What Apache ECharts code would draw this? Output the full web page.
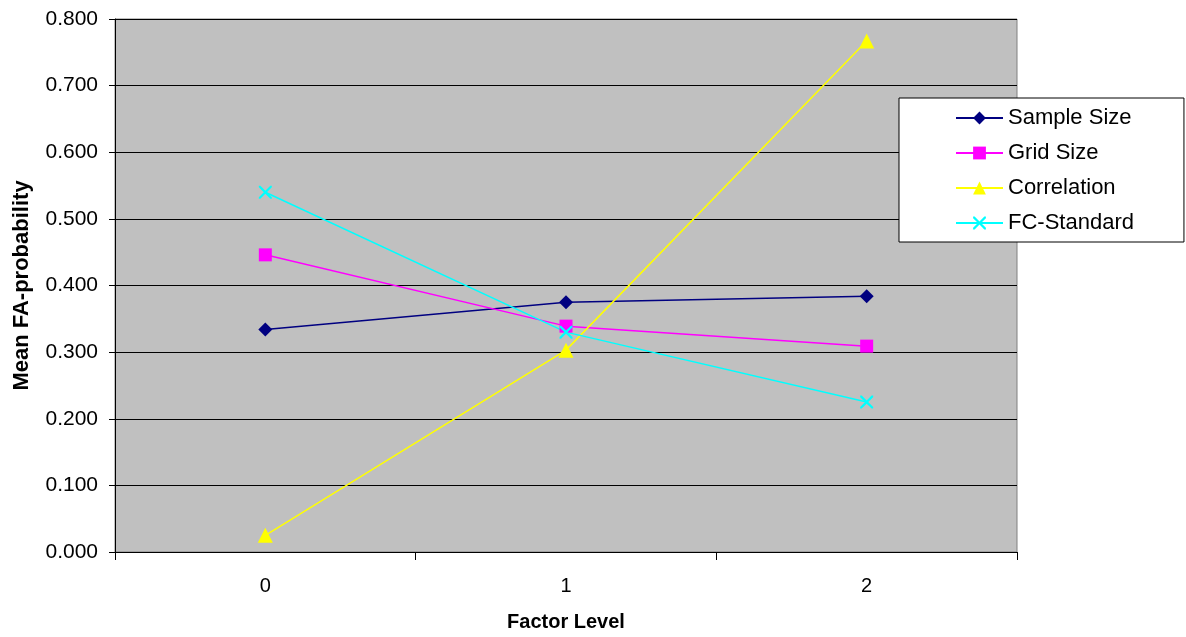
<!DOCTYPE html>
<html>
<head>
<meta charset="utf-8">
<script src="https://cdn.jsdelivr.net/npm/echarts@6/dist/echarts.min.js"></script>
<style>
  html, body { margin: 0; padding: 0; background: #ffffff; }
  #chart { width: 1186px; height: 637px; }
</style>
</head>
<body>
<div id="chart"></div>
<script>
// Factor levels on the x axis
const factorLevels = ['0', '1', '2'];

// Mean FA-probability per factor level
const sampleSize = [0.334, 0.375, 0.384];
const gridSize = [0.446, 0.339, 0.309];
const correlation = [0.025, 0.303, 0.767];
const fcStandard = [0.540, 0.330, 0.225];

// Thin "X" marker outline
const crossPath = 'path://M0,0 L1.2,0 L5,3.8 L8.8,0 L10,0 L10,1.2 L6.2,5 L10,8.8 L10,10 L8.8,10 L5,6.2 L1.2,10 L0,10 L0,8.8 L3.8,5 L0,1.2 Z';

const font = 'Arial, "Liberation Sans", sans-serif';

function lineSeries(name, data, color, symbol, size) {
  return {
    name: name,
    type: 'line',
    data: data,
    symbol: symbol,
    symbolSize: size,
    showAllSymbol: true,
    lineStyle: { color: color, width: 1.5 },
    itemStyle: { color: color },
    emphasis: { disabled: true },
    z: 3
  };
}

const chart = echarts.init(document.getElementById('chart'), null, { renderer: 'canvas' });

chart.setOption({
  animation: false,
  backgroundColor: '#ffffff',
  grid: {
    left: 115, right: 169, top: 19, bottom: 77,
    show: true,
    backgroundColor: '#c0c0c0',
    borderColor: '#808080',
    borderWidth: 1
  },
  xAxis: {
    type: 'category',
    data: factorLevels,
    boundaryGap: true,
    name: 'Factor Level',
    nameLocation: 'middle',
    nameGap: 60,
    nameTextStyle: { fontFamily: font, fontSize: 20, fontWeight: 'bold', color: '#000' },
    axisLine: { lineStyle: { color: '#000', width: 1 } },
    axisTick: { show: true, length: 8, lineStyle: { color: '#000' } },
    axisLabel: { fontFamily: font, fontSize: 20, color: '#000', margin: 24 },
    splitLine: { show: false }
  },
  yAxis: {
    type: 'value',
    min: 0,
    max: 0.8,
    interval: 0.1,
    name: 'Mean FA-probability',
    nameLocation: 'middle',
    nameGap: 82,
    nameTextStyle: { fontFamily: font, fontSize: 22, fontWeight: 'bold', color: '#000' },
    axisLine: { show: true, lineStyle: { color: '#000', width: 1 } },
    axisTick: { show: true, length: 6, lineStyle: { color: '#000' } },
    axisLabel: {
      fontFamily: font, fontSize: 21, color: '#000', margin: 17,
      formatter: v => v.toFixed(3)
    },
    splitLine: { show: true, lineStyle: { color: '#000', width: 1 } }
  },
  legend: {
    orient: 'vertical',
    left: 899,
    top: 98,
    backgroundColor: '#ffffff',
    borderColor: '#000',
    borderWidth: 1,
    padding: [9, 50, 8, 56],
    itemWidth: 47,
    itemHeight: 16,
    itemGap: 13,
    textStyle: { fontFamily: font, fontSize: 22, color: '#000', lineHeight: 22 },
    data: ['Sample Size', 'Grid Size', 'Correlation', 'FC-Standard']
  },
  series: [
    lineSeries('Sample Size', sampleSize, '#000080', 'diamond', 14),
    lineSeries('Grid Size', gridSize, '#ff00ff', 'rect', 13),
    lineSeries('Correlation', correlation, '#ffff00', 'triangle', 15),
    lineSeries('FC-Standard', fcStandard, '#00ffff', crossPath, 13)
  ]
});
</script>
</body>
</html>
